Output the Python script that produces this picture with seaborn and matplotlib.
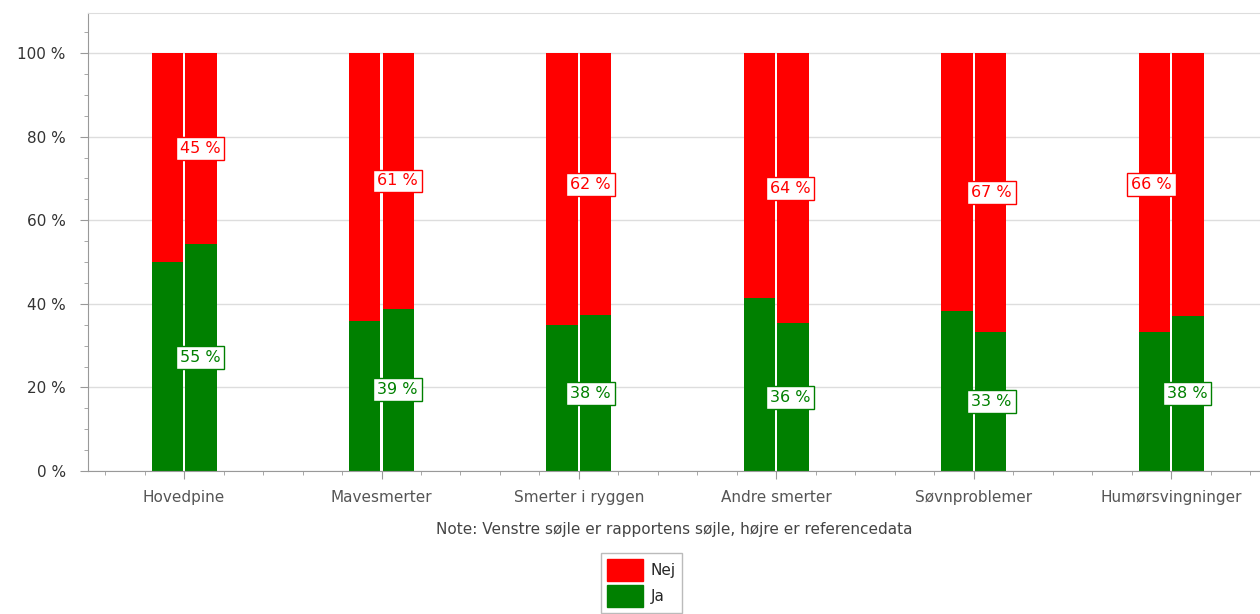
import matplotlib.pyplot as plt
import matplotlib.patches as mpatches
from matplotlib.ticker import MultipleLocator, FuncFormatter
import numpy as np
import pandas as pd
import seaborn as sns

# data
categories = ["Hovedpine", "Mavesmerter", "Smerter i ryggen", "Andre smerter",
              "Søvnproblemer", "Humørsvingninger"]
ja_rapport = [50.0, 35.9, 34.9, 41.4, 38.3, 33.3]
ja_reference = [54.4, 38.8, 37.3, 35.4, 33.3, 37.1]
nej_labels = ["45 %", "61 %", "62 %", "64 %", "67 %", "66 %"]
ja_labels = ["55 %", "39 %", "38 %", "36 %", "33 %", "38 %"]

RED = "#ff0000"
GREEN = "#008000"

df = pd.DataFrame({
    "kategori": categories * 2,
    "soejle": ["Rapport"] * len(categories) + ["Reference"] * len(categories),
    "ja": ja_rapport + ja_reference,
})
df["total"] = 100.0

sns.set_style("white")
plt.rcParams["font.family"] = ["DejaVu Sans"]

fig = plt.figure(figsize=(12.6, 6.14), dpi=100)
ax = fig.add_axes([0.0698, 0.2329, 0.9302, 0.7459])

# rød (Nej) = hele søjlen, grøn (Ja) ovenpå
sns.barplot(data=df, x="kategori", y="total", hue="soejle", order=categories,
            palette=[RED, RED], width=0.34, gap=0.06, dodge=True, legend=False,
            linewidth=0, saturation=1, ax=ax, errorbar=None)
sns.barplot(data=df, x="kategori", y="ja", hue="soejle", order=categories,
            palette=[GREEN, GREEN], width=0.34, gap=0.06, dodge=True, legend=False,
            linewidth=0, saturation=1, ax=ax, errorbar=None)

# etiketter midt i højre søjles segmenter
x_off = [0.08, 0.08, 0.06, 0.07, 0.09, -0.1]
x_off_ja = [0.08, 0.08, 0.06, 0.07, 0.09, 0.08]
for i, cat in enumerate(categories):
    ja = ja_reference[i]
    ax.text(i + x_off[i], (ja + 100) / 2, nej_labels[i], color=RED, fontsize=11.5,
            ha="center", va="center", zorder=5,
            bbox=dict(boxstyle="square,pad=0.25", fc="white", ec=RED, lw=1))
    ax.text(i + x_off_ja[i], ja / 2, ja_labels[i], color=GREEN, fontsize=11.5,
            ha="center", va="center", zorder=5,
            bbox=dict(boxstyle="square,pad=0.25", fc="white", ec=GREEN, lw=1))

ax.set_ylim(0, 109.6)
ax.set_xlim(-0.487, 5.45)
ax.yaxis.set_major_locator(MultipleLocator(20))
ax.yaxis.set_minor_locator(MultipleLocator(5))
ax.yaxis.set_major_formatter(FuncFormatter(lambda v, p: f"{v:.0f} %"))
ax.set_xticks(range(len(categories)))
ax.set_xticks(np.arange(-0.4, 5.5, 0.2), minor=True)
ax.set_xticklabels(categories)
ax.grid(axis="y", color="#dddddd", linewidth=1)
ax.set_axisbelow(True)

for side in ["left", "bottom"]:
    ax.spines[side].set_color("#999999")
ax.spines["top"].set_color("#dddddd")
ax.spines["right"].set_visible(False)
ax.tick_params(axis="both", which="major", length=6, color="#999999",
               labelsize=11, direction="out")
ax.tick_params(axis="both", which="minor", length=3, color="#999999", direction="out")
ax.tick_params(axis="y", which="both", left=True, labelcolor="#333333", pad=10)
ax.tick_params(axis="x", which="both", bottom=True, labelcolor="#555555", pad=8)
ax.set_xlabel("Note: Venstre søjle er rapportens søjle, højre er referencedata",
              fontsize=11, color="#444444", labelpad=12)
ax.set_ylabel("")

handles = [mpatches.Patch(color=RED, label="Nej"),
           mpatches.Patch(color=GREEN, label="Ja")]
leg = fig.legend(handles=handles, loc="upper center", bbox_to_anchor=(0.509, 0.112),
                 frameon=True, fancybox=False, fontsize=11, handlelength=2.4,
                 handleheight=1.8, borderpad=0.4, labelspacing=0.3, handletextpad=0.5)
leg.get_frame().set_edgecolor("#aaaaaa")

fig.savefig("out.png", dpi=100)
